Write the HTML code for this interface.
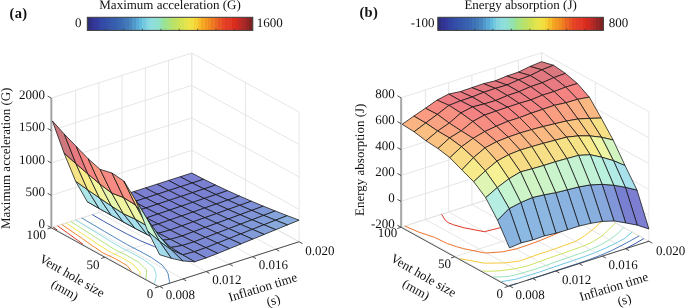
<!DOCTYPE html><html><head><meta charset="utf-8"><style>html,body{margin:0;padding:0;background:#fff;overflow:hidden}svg{display:block;will-change:transform}</style></head><body><svg width="685" height="308" viewBox="0 0 685 308">
<style>.t{font-family:'Liberation Serif',serif;font-size:13px;fill:#111;text-rendering:geometricPrecision}.g{stroke:#e3e3e3;stroke-width:0.9}.b{font-family:'Liberation Serif',serif;font-size:14.5px;font-weight:bold;letter-spacing:0.3px;fill:#111}</style>
<rect width="685" height="308" fill="#fff"/>
<line x1="52.40" y1="227.40" x2="52.40" y2="97.70" class="g"/>
<line x1="159.70" y1="286.40" x2="52.40" y2="227.40" class="g"/>
<line x1="75.63" y1="219.96" x2="75.63" y2="90.26" class="g"/>
<line x1="182.93" y1="278.96" x2="75.63" y2="219.96" class="g"/>
<line x1="98.86" y1="212.52" x2="98.86" y2="82.82" class="g"/>
<line x1="206.16" y1="271.52" x2="98.86" y2="212.52" class="g"/>
<line x1="122.10" y1="205.08" x2="122.10" y2="75.38" class="g"/>
<line x1="229.40" y1="264.08" x2="122.10" y2="205.08" class="g"/>
<line x1="145.33" y1="197.64" x2="145.33" y2="67.94" class="g"/>
<line x1="252.63" y1="256.64" x2="145.33" y2="197.64" class="g"/>
<line x1="168.56" y1="190.20" x2="168.56" y2="60.50" class="g"/>
<line x1="275.86" y1="249.20" x2="168.56" y2="190.20" class="g"/>
<line x1="191.79" y1="182.76" x2="191.79" y2="53.06" class="g"/>
<line x1="299.09" y1="241.76" x2="191.79" y2="182.76" class="g"/>
<line x1="299.09" y1="241.76" x2="299.09" y2="112.06" class="g"/>
<line x1="158.54" y1="286.77" x2="299.09" y2="241.76" class="g"/>
<line x1="245.44" y1="212.26" x2="245.44" y2="82.56" class="g"/>
<line x1="104.89" y1="257.27" x2="245.44" y2="212.26" class="g"/>
<line x1="191.79" y1="182.76" x2="191.79" y2="53.06" class="g"/>
<line x1="51.24" y1="227.77" x2="191.79" y2="182.76" class="g"/>
<line x1="51.24" y1="227.77" x2="191.79" y2="182.76" class="g"/>
<line x1="191.79" y1="182.76" x2="299.09" y2="241.76" class="g"/>
<line x1="51.24" y1="195.35" x2="191.79" y2="150.33" class="g"/>
<line x1="191.79" y1="150.33" x2="299.09" y2="209.33" class="g"/>
<line x1="51.24" y1="162.92" x2="191.79" y2="117.91" class="g"/>
<line x1="191.79" y1="117.91" x2="299.09" y2="176.91" class="g"/>
<line x1="51.24" y1="130.50" x2="191.79" y2="85.48" class="g"/>
<line x1="191.79" y1="85.48" x2="299.09" y2="144.48" class="g"/>
<line x1="51.24" y1="98.07" x2="191.79" y2="53.06" class="g"/>
<line x1="191.79" y1="53.06" x2="299.09" y2="112.06" class="g"/>
<polyline points="239.48,208.98 230.51,214.16 222.09,219.63 214.42,225.52 211.24,228.40 207.48,231.81 201.65,238.72 199.47,242.54 197.51,246.55 196.11,253.99 196.01,255.83 184.66,259.70 181.94,258.53 168.25,252.54 154.39,246.61 140.39,240.72 127.72,234.40 115.60,227.91 103.76,221.33 92.28,214.63" fill="none" stroke="#3553a9" stroke-width="0.95"/>
<polyline points="168.83,283.48 169.54,281.71 167.97,273.38 165.66,269.46 162.06,264.90 151.84,257.80 139.94,251.23 127.50,244.84 115.96,238.16 104.59,231.44 93.16,224.72 81.78,217.99" fill="none" stroke="#4681bc" stroke-width="0.95"/>
<polyline points="154.56,283.58 155.95,277.23 156.22,274.38 153.88,267.52 144.55,260.13 132.81,253.52 120.29,247.15 109.01,240.39 97.91,233.57 86.73,226.78 75.57,219.98" fill="none" stroke="#8adae0" stroke-width="0.95"/>
<polyline points="146.13,278.94 146.56,269.86 144.76,268.08 138.43,262.09 126.83,255.43 114.10,249.14 103.17,242.26 92.48,235.31 81.66,228.40 70.85,221.49" fill="none" stroke="#aee279" stroke-width="0.95"/>
<polyline points="139.79,275.45 139.95,271.98 132.66,263.94 121.16,257.25 108.33,250.98 97.59,244.05 87.14,237.02 81.43,233.25 76.58,230.03 66.12,223.00" fill="none" stroke="#f1e445" stroke-width="0.95"/>
<polyline points="131.23,270.75 127.20,265.69 115.84,258.95 102.82,252.75 92.38,245.72 82.30,238.57 71.99,231.50 61.69,224.43" fill="none" stroke="#ef8322" stroke-width="0.95"/>
<polyline points="83.02,244.24 77.45,240.12 67.47,232.95 57.47,225.77" fill="none" stroke="#de3322" stroke-width="0.95"/>
<polyline points="57.19,230.04 53.26,227.12" fill="none" stroke="#7a2020" stroke-width="0.95"/>
<polyline points="51.24,227.77 158.54,286.77 299.09,241.76" fill="none" stroke="#3a3a3a" stroke-width="0.9"/>
<line x1="51.24" y1="227.77" x2="51.24" y2="98.07" stroke="#a0a0a0" stroke-width="1.7"/>
<line x1="51.24" y1="227.77" x2="47.64" y2="225.77" stroke="#3a3a3a" stroke-width="0.9"/>
<line x1="51.24" y1="195.35" x2="47.64" y2="193.35" stroke="#3a3a3a" stroke-width="0.9"/>
<line x1="51.24" y1="162.92" x2="47.64" y2="160.92" stroke="#3a3a3a" stroke-width="0.9"/>
<line x1="51.24" y1="130.50" x2="47.64" y2="128.50" stroke="#3a3a3a" stroke-width="0.9"/>
<line x1="51.24" y1="98.07" x2="47.64" y2="96.07" stroke="#3a3a3a" stroke-width="0.9"/>
<line x1="158.54" y1="286.77" x2="154.84" y2="287.97" stroke="#3a3a3a" stroke-width="0.9"/>
<line x1="104.89" y1="257.27" x2="101.19" y2="258.47" stroke="#3a3a3a" stroke-width="0.9"/>
<line x1="51.24" y1="227.77" x2="47.54" y2="228.97" stroke="#3a3a3a" stroke-width="0.9"/>
<line x1="159.70" y1="286.40" x2="163.10" y2="288.30" stroke="#3a3a3a" stroke-width="0.9"/>
<line x1="182.93" y1="278.96" x2="186.33" y2="280.86" stroke="#3a3a3a" stroke-width="0.9"/>
<line x1="206.16" y1="271.52" x2="209.56" y2="273.42" stroke="#3a3a3a" stroke-width="0.9"/>
<line x1="229.40" y1="264.08" x2="232.80" y2="265.98" stroke="#3a3a3a" stroke-width="0.9"/>
<line x1="252.63" y1="256.64" x2="256.03" y2="258.54" stroke="#3a3a3a" stroke-width="0.9"/>
<line x1="275.86" y1="249.20" x2="279.26" y2="251.10" stroke="#3a3a3a" stroke-width="0.9"/>
<line x1="299.09" y1="241.76" x2="302.49" y2="243.66" stroke="#3a3a3a" stroke-width="0.9"/>
<polygon points="192.10,182.99 203.71,179.24 191.79,173.03 180.18,176.75" fill="#7a7fd1" stroke="#111" stroke-width="0.75" stroke-linejoin="round"/>
<polygon points="180.48,186.74 192.10,182.99 180.18,176.75 168.56,180.47" fill="#7a7fd1" stroke="#111" stroke-width="0.75" stroke-linejoin="round"/>
<polygon points="204.02,188.89 215.64,185.07 203.71,179.24 192.10,182.99" fill="#7a80d1" stroke="#111" stroke-width="0.75" stroke-linejoin="round"/>
<polygon points="168.87,190.49 180.48,186.74 168.56,180.47 156.94,184.19" fill="#7a7fd1" stroke="#111" stroke-width="0.75" stroke-linejoin="round"/>
<polygon points="192.40,192.70 204.02,188.89 192.10,182.99 180.48,186.74" fill="#7a80d1" stroke="#111" stroke-width="0.75" stroke-linejoin="round"/>
<polygon points="157.25,194.24 168.87,190.49 156.94,184.19 145.33,187.91" fill="#7a7fd1" stroke="#111" stroke-width="0.75" stroke-linejoin="round"/>
<polygon points="215.94,194.55 227.56,190.65 215.64,185.07 204.02,188.89" fill="#7981d1" stroke="#111" stroke-width="0.75" stroke-linejoin="round"/>
<polygon points="180.79,196.51 192.40,192.70 180.48,186.74 168.87,190.49" fill="#7a7fd1" stroke="#111" stroke-width="0.75" stroke-linejoin="round"/>
<polygon points="145.63,197.99 157.25,194.24 145.33,187.91 133.71,191.63" fill="#7a7fd1" stroke="#111" stroke-width="0.75" stroke-linejoin="round"/>
<polygon points="204.33,198.45 215.94,194.55 204.02,188.89 192.40,192.70" fill="#7980d1" stroke="#111" stroke-width="0.75" stroke-linejoin="round"/>
<polygon points="169.17,200.33 180.79,196.51 168.87,190.49 157.25,194.24" fill="#7a7fd1" stroke="#111" stroke-width="0.75" stroke-linejoin="round"/>
<polygon points="134.02,201.74 145.63,197.99 133.71,191.63 122.10,195.35" fill="#7a7fd1" stroke="#111" stroke-width="0.75" stroke-linejoin="round"/>
<polygon points="227.86,200.01 239.48,196.01 227.56,190.65 215.94,194.55" fill="#7b85d3" stroke="#111" stroke-width="0.75" stroke-linejoin="round"/>
<polygon points="192.71,202.35 204.33,198.45 192.40,192.70 180.79,196.51" fill="#7980d1" stroke="#111" stroke-width="0.75" stroke-linejoin="round"/>
<polygon points="157.56,204.14 169.17,200.33 157.25,194.24 145.63,197.99" fill="#7a7fd1" stroke="#111" stroke-width="0.75" stroke-linejoin="round"/>
<polygon points="122.40,205.49 134.02,201.74 122.10,195.35 110.48,199.07" fill="#7a7fd1" stroke="#111" stroke-width="0.75" stroke-linejoin="round"/>
<polygon points="216.25,204.02 227.86,200.01 215.94,194.55 204.33,198.45" fill="#7a84d2" stroke="#111" stroke-width="0.75" stroke-linejoin="round"/>
<polygon points="181.09,206.24 192.71,202.35 180.79,196.51 169.17,200.33" fill="#7980d1" stroke="#111" stroke-width="0.75" stroke-linejoin="round"/>
<polygon points="145.94,207.95 157.56,204.14 145.63,197.99 134.02,201.74" fill="#7a7fd1" stroke="#111" stroke-width="0.75" stroke-linejoin="round"/>
<polygon points="110.79,208.16 122.40,205.49 110.48,199.07 98.86,201.63" fill="#7980d1" stroke="#111" stroke-width="0.75" stroke-linejoin="round"/>
<polygon points="239.79,205.30 251.40,201.18 239.48,196.01 227.86,200.01" fill="#7c8bd4" stroke="#111" stroke-width="0.75" stroke-linejoin="round"/>
<polygon points="204.63,208.02 216.25,204.02 204.33,198.45 192.71,202.35" fill="#7a83d2" stroke="#111" stroke-width="0.75" stroke-linejoin="round"/>
<polygon points="169.48,210.14 181.09,206.24 169.17,200.33 157.56,204.14" fill="#7980d1" stroke="#111" stroke-width="0.75" stroke-linejoin="round"/>
<polygon points="134.32,211.76 145.94,207.95 134.02,201.74 122.40,205.49" fill="#7a7fd1" stroke="#111" stroke-width="0.75" stroke-linejoin="round"/>
<polygon points="228.17,209.42 239.79,205.30 227.86,200.01 216.25,204.02" fill="#7c89d4" stroke="#111" stroke-width="0.75" stroke-linejoin="round"/>
<polygon points="99.17,208.49 110.79,208.16 98.86,201.63 87.25,201.68" fill="#7d8cd5" stroke="#111" stroke-width="0.75" stroke-linejoin="round"/>
<polygon points="193.02,212.02 204.63,208.02 192.71,202.35 181.09,206.24" fill="#7a82d2" stroke="#111" stroke-width="0.75" stroke-linejoin="round"/>
<polygon points="157.86,214.04 169.48,210.14 157.56,204.14 145.94,207.95" fill="#7a80d1" stroke="#111" stroke-width="0.75" stroke-linejoin="round"/>
<polygon points="122.71,214.56 134.32,211.76 122.40,205.49 110.79,208.16" fill="#7980d1" stroke="#111" stroke-width="0.75" stroke-linejoin="round"/>
<polygon points="251.71,210.42 263.33,206.16 251.40,201.18 239.79,205.30" fill="#7e91d6" stroke="#111" stroke-width="0.75" stroke-linejoin="round"/>
<polygon points="216.56,213.54 228.17,209.42 216.25,204.02 204.63,208.02" fill="#7b87d3" stroke="#111" stroke-width="0.75" stroke-linejoin="round"/>
<polygon points="181.40,216.02 193.02,212.02 181.09,206.24 169.48,210.14" fill="#7981d1" stroke="#111" stroke-width="0.75" stroke-linejoin="round"/>
<polygon points="146.25,217.94 157.86,214.04 145.94,207.95 134.32,211.76" fill="#7a7fd1" stroke="#111" stroke-width="0.75" stroke-linejoin="round"/>
<polygon points="111.09,215.17 122.71,214.56 110.79,208.16 99.17,208.49" fill="#7d8cd5" stroke="#111" stroke-width="0.75" stroke-linejoin="round"/>
<polygon points="240.09,214.68 251.71,210.42 239.79,205.30 228.17,209.42" fill="#7e8fd6" stroke="#111" stroke-width="0.75" stroke-linejoin="round"/>
<polygon points="204.94,217.67 216.56,213.54 204.63,208.02 193.02,212.02" fill="#7b86d3" stroke="#111" stroke-width="0.75" stroke-linejoin="round"/>
<polygon points="169.78,220.02 181.40,216.02 169.48,210.14 157.86,214.04" fill="#7980d1" stroke="#111" stroke-width="0.75" stroke-linejoin="round"/>
<polygon points="87.55,189.71 99.17,208.49 87.25,201.68 75.63,181.23" fill="#ade6e8" stroke="#111" stroke-width="0.75" stroke-linejoin="round"/>
<polygon points="134.63,220.89 146.25,217.94 134.32,211.76 122.71,214.56" fill="#7980d1" stroke="#111" stroke-width="0.75" stroke-linejoin="round"/>
<polygon points="263.63,215.39 275.25,210.98 263.33,206.16 251.71,210.42" fill="#8198d8" stroke="#111" stroke-width="0.75" stroke-linejoin="round"/>
<polygon points="228.48,218.94 240.09,214.68 228.17,209.42 216.56,213.54" fill="#7d8cd5" stroke="#111" stroke-width="0.75" stroke-linejoin="round"/>
<polygon points="193.32,221.79 204.94,217.67 193.02,212.02 181.40,216.02" fill="#7a84d2" stroke="#111" stroke-width="0.75" stroke-linejoin="round"/>
<polygon points="158.17,224.02 169.78,220.02 157.86,214.04 146.25,217.94" fill="#7980d1" stroke="#111" stroke-width="0.75" stroke-linejoin="round"/>
<polygon points="123.01,221.80 134.63,220.89 122.71,214.56 111.09,215.17" fill="#7d8bd5" stroke="#111" stroke-width="0.75" stroke-linejoin="round"/>
<polygon points="252.02,219.80 263.63,215.39 251.71,210.42 240.09,214.68" fill="#8095d8" stroke="#111" stroke-width="0.75" stroke-linejoin="round"/>
<polygon points="216.86,223.20 228.48,218.94 216.56,213.54 204.94,217.67" fill="#7c8ad4" stroke="#111" stroke-width="0.75" stroke-linejoin="round"/>
<polygon points="99.48,197.90 111.09,215.17 99.17,208.49 87.55,189.71" fill="#aae3eb" stroke="#111" stroke-width="0.75" stroke-linejoin="round"/>
<polygon points="181.71,225.91 193.32,221.79 181.40,216.02 169.78,220.02" fill="#7a82d2" stroke="#111" stroke-width="0.75" stroke-linejoin="round"/>
<polygon points="146.55,227.13 158.17,224.02 146.25,217.94 134.63,220.89" fill="#7981d1" stroke="#111" stroke-width="0.75" stroke-linejoin="round"/>
<polygon points="275.55,220.22 287.17,215.65 275.25,210.98 263.63,215.39" fill="#85a4db" stroke="#111" stroke-width="0.75" stroke-linejoin="round"/>
<polygon points="240.40,224.21 252.02,219.80 240.09,214.68 228.48,218.94" fill="#7f92d7" stroke="#111" stroke-width="0.75" stroke-linejoin="round"/>
<polygon points="205.25,227.46 216.86,223.20 204.94,217.67 193.32,221.79" fill="#7b88d3" stroke="#111" stroke-width="0.75" stroke-linejoin="round"/>
<polygon points="170.09,230.03 181.71,225.91 169.78,220.02 158.17,224.02" fill="#7981d1" stroke="#111" stroke-width="0.75" stroke-linejoin="round"/>
<polygon points="134.94,228.29 146.55,227.13 134.63,220.89 123.01,221.80" fill="#7d8cd5" stroke="#111" stroke-width="0.75" stroke-linejoin="round"/>
<polygon points="111.40,206.02 123.01,221.80 111.09,215.17 99.48,197.90" fill="#a7dfec" stroke="#111" stroke-width="0.75" stroke-linejoin="round"/>
<polygon points="75.94,163.73 87.55,189.71 75.63,181.23 64.02,153.04" fill="#f6e287" stroke="#111" stroke-width="0.75" stroke-linejoin="round"/>
<polygon points="263.94,224.79 275.55,220.22 263.63,215.39 252.02,219.80" fill="#839eda" stroke="#111" stroke-width="0.75" stroke-linejoin="round"/>
<polygon points="228.78,228.62 240.40,224.21 228.48,218.94 216.86,223.20" fill="#7e8fd6" stroke="#111" stroke-width="0.75" stroke-linejoin="round"/>
<polygon points="193.63,231.71 205.25,227.46 193.32,221.79 181.71,225.91" fill="#7b85d3" stroke="#111" stroke-width="0.75" stroke-linejoin="round"/>
<polygon points="158.48,233.22 170.09,230.03 158.17,224.02 146.55,227.13" fill="#7a83d2" stroke="#111" stroke-width="0.75" stroke-linejoin="round"/>
<polygon points="252.32,229.37 263.94,224.79 252.02,219.80 240.40,224.21" fill="#8199d9" stroke="#111" stroke-width="0.75" stroke-linejoin="round"/>
<polygon points="287.48,224.92 299.09,220.16 287.17,215.65 275.55,220.22" fill="#89addd" stroke="#111" stroke-width="0.75" stroke-linejoin="round"/>
<polygon points="217.17,233.03 228.78,228.62 216.86,223.20 205.25,227.46" fill="#7d8cd5" stroke="#111" stroke-width="0.75" stroke-linejoin="round"/>
<polygon points="182.01,235.97 193.63,231.71 181.71,225.91 170.09,230.03" fill="#7a83d2" stroke="#111" stroke-width="0.75" stroke-linejoin="round"/>
<polygon points="146.86,234.40 158.48,233.22 146.55,227.13 134.94,228.29" fill="#7d8ed5" stroke="#111" stroke-width="0.75" stroke-linejoin="round"/>
<polygon points="87.86,173.88 99.48,197.90 87.55,189.71 75.94,163.73" fill="#f8ec8b" stroke="#111" stroke-width="0.75" stroke-linejoin="round"/>
<polygon points="123.32,213.63 134.94,228.29 123.01,221.80 111.40,206.02" fill="#a4ddeb" stroke="#111" stroke-width="0.75" stroke-linejoin="round"/>
<polygon points="240.71,233.94 252.32,229.37 240.40,224.21 228.78,228.62" fill="#7f94d7" stroke="#111" stroke-width="0.75" stroke-linejoin="round"/>
<polygon points="275.86,229.67 287.48,224.92 275.55,220.22 263.94,224.79" fill="#88a9dc" stroke="#111" stroke-width="0.75" stroke-linejoin="round"/>
<polygon points="205.55,237.44 217.17,233.03 205.25,227.46 193.63,231.71" fill="#7c89d4" stroke="#111" stroke-width="0.75" stroke-linejoin="round"/>
<polygon points="170.40,239.32 182.01,235.97 170.09,230.03 158.48,233.22" fill="#7b85d3" stroke="#111" stroke-width="0.75" stroke-linejoin="round"/>
<polygon points="264.24,234.42 275.86,229.67 263.94,224.79 252.32,229.37" fill="#85a2da" stroke="#111" stroke-width="0.75" stroke-linejoin="round"/>
<polygon points="229.09,238.51 240.71,233.94 228.78,228.62 217.17,233.03" fill="#7e90d6" stroke="#111" stroke-width="0.75" stroke-linejoin="round"/>
<polygon points="193.94,241.85 205.55,237.44 193.63,231.71 182.01,235.97" fill="#7b86d3" stroke="#111" stroke-width="0.75" stroke-linejoin="round"/>
<polygon points="99.78,183.96 111.40,206.02 99.48,197.90 87.86,173.88" fill="#f3f49e" stroke="#111" stroke-width="0.75" stroke-linejoin="round"/>
<polygon points="158.78,240.68 170.40,239.32 158.48,233.22 146.86,234.40" fill="#7e8fd6" stroke="#111" stroke-width="0.75" stroke-linejoin="round"/>
<polygon points="135.24,219.11 146.86,234.40 134.94,228.29 123.32,213.63" fill="#a7e0ec" stroke="#111" stroke-width="0.75" stroke-linejoin="round"/>
<polygon points="252.63,239.17 264.24,234.42 252.32,229.37 240.71,233.94" fill="#829cd9" stroke="#111" stroke-width="0.75" stroke-linejoin="round"/>
<polygon points="217.47,243.09 229.09,238.51 217.17,233.03 205.55,237.44" fill="#7d8dd5" stroke="#111" stroke-width="0.75" stroke-linejoin="round"/>
<polygon points="64.32,134.15 75.94,163.73 64.02,153.04 52.40,120.98" fill="#cc787d" stroke="#111" stroke-width="0.75" stroke-linejoin="round"/>
<polygon points="182.32,245.50 193.94,241.85 182.01,235.97 170.40,239.32" fill="#7b86d3" stroke="#111" stroke-width="0.75" stroke-linejoin="round"/>
<polygon points="111.70,193.00 123.32,213.63 111.40,206.02 99.78,183.96" fill="#e7f5ad" stroke="#111" stroke-width="0.75" stroke-linejoin="round"/>
<polygon points="241.01,243.92 252.63,239.17 240.71,233.94 229.09,238.51" fill="#8095d8" stroke="#111" stroke-width="0.75" stroke-linejoin="round"/>
<polygon points="205.86,247.66 217.47,243.09 205.55,237.44 193.94,241.85" fill="#7c89d4" stroke="#111" stroke-width="0.75" stroke-linejoin="round"/>
<polygon points="170.70,247.49 182.32,245.50 170.40,239.32 158.78,240.68" fill="#7d8ed5" stroke="#111" stroke-width="0.75" stroke-linejoin="round"/>
<polygon points="76.24,146.48 87.86,173.88 75.94,163.73 64.32,134.15" fill="#e77980" stroke="#111" stroke-width="0.75" stroke-linejoin="round"/>
<polygon points="147.17,225.91 158.78,240.68 146.86,234.40 135.24,219.11" fill="#a6dfec" stroke="#111" stroke-width="0.75" stroke-linejoin="round"/>
<polygon points="229.40,248.67 241.01,243.92 229.09,238.51 217.47,243.09" fill="#7e91d6" stroke="#111" stroke-width="0.75" stroke-linejoin="round"/>
<polygon points="194.24,251.76 205.86,247.66 193.94,241.85 182.32,245.50" fill="#7b88d3" stroke="#111" stroke-width="0.75" stroke-linejoin="round"/>
<polygon points="123.63,197.62 135.24,219.11 123.32,213.63 111.70,193.00" fill="#f1f5a2" stroke="#111" stroke-width="0.75" stroke-linejoin="round"/>
<polygon points="88.17,158.74 99.78,183.96 87.86,173.88 76.24,146.48" fill="#f68682" stroke="#111" stroke-width="0.75" stroke-linejoin="round"/>
<polygon points="217.78,253.42 229.40,248.67 217.47,243.09 205.86,247.66" fill="#7d8dd5" stroke="#111" stroke-width="0.75" stroke-linejoin="round"/>
<polygon points="182.63,254.85 194.24,251.76 182.32,245.50 170.70,247.49" fill="#7c8ad4" stroke="#111" stroke-width="0.75" stroke-linejoin="round"/>
<polygon points="159.09,236.03 170.70,247.49 158.78,240.68 147.17,225.91" fill="#9fd6eb" stroke="#111" stroke-width="0.75" stroke-linejoin="round"/>
<polygon points="206.16,257.90 217.78,253.42 205.86,247.66 194.24,251.76" fill="#7c89d4" stroke="#111" stroke-width="0.75" stroke-linejoin="round"/>
<polygon points="100.09,169.38 111.70,193.00 99.78,183.96 88.17,158.74" fill="#fa9782" stroke="#111" stroke-width="0.75" stroke-linejoin="round"/>
<polygon points="135.55,205.04 147.17,225.91 135.24,219.11 123.63,197.62" fill="#edf5a7" stroke="#111" stroke-width="0.75" stroke-linejoin="round"/>
<polygon points="171.01,249.62 182.63,254.85 170.70,247.49 159.09,236.03" fill="#8ab6e1" stroke="#111" stroke-width="0.75" stroke-linejoin="round"/>
<polygon points="194.55,261.80 206.16,257.90 194.24,251.76 182.63,254.85" fill="#7c89d4" stroke="#111" stroke-width="0.75" stroke-linejoin="round"/>
<polygon points="147.47,219.48 159.09,236.03 147.17,225.91 135.55,205.04" fill="#ccf4c8" stroke="#111" stroke-width="0.75" stroke-linejoin="round"/>
<polygon points="112.01,173.02 123.63,197.62 111.70,193.00 100.09,169.38" fill="#f78a82" stroke="#111" stroke-width="0.75" stroke-linejoin="round"/>
<polygon points="182.93,260.94 194.55,261.80 182.63,254.85 171.01,249.62" fill="#849fda" stroke="#111" stroke-width="0.75" stroke-linejoin="round"/>
<polygon points="159.39,241.26 171.01,249.62 159.09,236.03 147.47,219.48" fill="#a9e2eb" stroke="#111" stroke-width="0.75" stroke-linejoin="round"/>
<polygon points="123.93,181.13 135.55,205.04 123.63,197.62 112.01,173.02" fill="#f89182" stroke="#111" stroke-width="0.75" stroke-linejoin="round"/>
<polygon points="171.32,258.30 182.93,260.94 171.01,249.62 159.39,241.26" fill="#8fbee4" stroke="#111" stroke-width="0.75" stroke-linejoin="round"/>
<polygon points="135.86,200.40 147.47,219.48 135.55,205.04 123.93,181.13" fill="#f9cc82" stroke="#111" stroke-width="0.75" stroke-linejoin="round"/>
<polygon points="147.78,231.34 159.39,241.26 147.47,219.48 135.86,200.40" fill="#c7f4cf" stroke="#111" stroke-width="0.75" stroke-linejoin="round"/>
<polygon points="159.70,254.75 171.32,258.30 159.39,241.26 147.78,231.34" fill="#a3dbeb" stroke="#111" stroke-width="0.75" stroke-linejoin="round"/>
<text x="44.94" y="228.37" text-anchor="end" class="t">0</text>
<text x="44.94" y="195.95" text-anchor="end" class="t">500</text>
<text x="44.94" y="163.52" text-anchor="end" class="t">1000</text>
<text x="44.94" y="131.10" text-anchor="end" class="t">1500</text>
<text x="44.94" y="98.67" text-anchor="end" class="t">2000</text>
<text x="45.94" y="239.07" text-anchor="end" class="t">100</text>
<text x="99.59" y="268.57" text-anchor="end" class="t">50</text>
<text x="153.24" y="298.07" text-anchor="end" class="t">0</text>
<text x="180.40" y="299.20" text-anchor="middle" class="t">0.008</text>
<text x="226.86" y="284.32" text-anchor="middle" class="t">0.012</text>
<text x="273.33" y="269.44" text-anchor="middle" class="t">0.016</text>
<text x="319.79" y="254.56" text-anchor="middle" class="t">0.020</text>
<line x1="402.20" y1="226.90" x2="402.20" y2="97.40" class="g"/>
<line x1="509.50" y1="285.90" x2="402.20" y2="226.90" class="g"/>
<line x1="425.43" y1="219.46" x2="425.43" y2="89.96" class="g"/>
<line x1="532.73" y1="278.46" x2="425.43" y2="219.46" class="g"/>
<line x1="448.66" y1="212.02" x2="448.66" y2="82.52" class="g"/>
<line x1="555.96" y1="271.02" x2="448.66" y2="212.02" class="g"/>
<line x1="471.90" y1="204.58" x2="471.90" y2="75.08" class="g"/>
<line x1="579.20" y1="263.58" x2="471.90" y2="204.58" class="g"/>
<line x1="495.13" y1="197.14" x2="495.13" y2="67.64" class="g"/>
<line x1="602.43" y1="256.14" x2="495.13" y2="197.14" class="g"/>
<line x1="518.36" y1="189.70" x2="518.36" y2="60.20" class="g"/>
<line x1="625.66" y1="248.70" x2="518.36" y2="189.70" class="g"/>
<line x1="541.59" y1="182.26" x2="541.59" y2="52.76" class="g"/>
<line x1="648.89" y1="241.26" x2="541.59" y2="182.26" class="g"/>
<line x1="648.89" y1="241.26" x2="648.89" y2="111.76" class="g"/>
<line x1="508.34" y1="286.27" x2="648.89" y2="241.26" class="g"/>
<line x1="595.24" y1="211.76" x2="595.24" y2="82.26" class="g"/>
<line x1="454.69" y1="256.77" x2="595.24" y2="211.76" class="g"/>
<line x1="541.59" y1="182.26" x2="541.59" y2="52.76" class="g"/>
<line x1="401.04" y1="227.27" x2="541.59" y2="182.26" class="g"/>
<line x1="401.04" y1="227.27" x2="541.59" y2="182.26" class="g"/>
<line x1="541.59" y1="182.26" x2="648.89" y2="241.26" class="g"/>
<line x1="401.04" y1="201.37" x2="541.59" y2="156.36" class="g"/>
<line x1="541.59" y1="156.36" x2="648.89" y2="215.36" class="g"/>
<line x1="401.04" y1="175.47" x2="541.59" y2="130.46" class="g"/>
<line x1="541.59" y1="130.46" x2="648.89" y2="189.46" class="g"/>
<line x1="401.04" y1="149.57" x2="541.59" y2="104.56" class="g"/>
<line x1="541.59" y1="104.56" x2="648.89" y2="163.56" class="g"/>
<line x1="401.04" y1="123.67" x2="541.59" y2="78.66" class="g"/>
<line x1="541.59" y1="78.66" x2="648.89" y2="137.66" class="g"/>
<line x1="401.04" y1="97.77" x2="541.59" y2="52.76" class="g"/>
<line x1="541.59" y1="52.76" x2="648.89" y2="111.76" class="g"/>
<polyline points="647.89,241.58 648.65,241.13" fill="none" stroke="#2a2c6a" stroke-width="0.95"/>
<polyline points="625.40,248.78 625.61,248.67 634.96,243.71 643.88,238.51" fill="none" stroke="#3450a8" stroke-width="0.95"/>
<polyline points="509.06,285.66 517.24,283.42" fill="none" stroke="#3f72b6" stroke-width="0.95"/>
<polyline points="527.45,280.15 532.61,278.39 544.32,274.73 555.58,270.81 567.07,267.02 578.68,263.29 589.88,259.35 600.78,255.24 611.11,250.81 620.66,245.95 630.03,241.00 639.12,235.88" fill="none" stroke="#3f72b6" stroke-width="0.95"/>
<polyline points="501.70,281.61 515.74,279.22 527.61,275.64 539.49,272.07 550.73,268.14 562.02,264.24 573.47,260.43 584.72,256.51 595.64,252.41 605.98,247.98 615.72,243.23 624.06,238.84 624.97,238.21 632.22,232.09" fill="none" stroke="#68c2e0" stroke-width="0.95"/>
<polyline points="493.35,277.02 505.82,276.70 510.19,276.17 522.61,272.89 534.65,269.41 545.88,265.48 556.97,261.47 568.26,257.57 579.56,253.67 590.51,249.58 600.45,244.94 609.40,239.76 617.28,233.98 622.10,229.09 623.67,227.39" fill="none" stroke="#92e2b8" stroke-width="0.95"/>
<polyline points="482.39,270.99 490.40,271.27 500.39,270.78 515.03,268.73 528.05,265.78 539.11,261.75 550.11,257.69 561.46,253.83 572.72,249.91 583.77,245.88 593.75,241.26 602.18,235.79 602.87,235.25 608.85,229.35 615.56,222.93" fill="none" stroke="#cbe258" stroke-width="0.95"/>
<polyline points="459.91,258.63 463.04,259.28 483.66,263.05 486.56,263.18 504.45,262.91 519.49,261.07 530.60,257.07 541.85,253.15 553.41,249.40 564.48,245.38 575.54,241.35 584.30,236.07 591.88,230.13 595.55,227.22 599.00,223.93 606.11,217.74" fill="none" stroke="#f5c631" stroke-width="0.95"/>
<polyline points="404.86,226.05 418.56,232.03 434.43,237.33 447.39,243.55 456.60,246.70 463.76,248.68 483.56,252.71 486.42,252.99 502.62,251.80 515.91,248.99 527.40,245.21 538.44,241.17 548.98,236.86 559.24,232.39 568.59,227.43 577.08,222.76 577.81,222.39 586.50,217.06 595.73,212.03" fill="none" stroke="#eb6922" stroke-width="0.95"/>
<polyline points="441.57,214.29 445.39,220.33 448.12,222.57 453.44,224.75 464.12,227.82 484.43,231.69 497.09,228.54 509.27,225.13 521.58,221.79 532.42,217.64 547.19,215.66 557.43,211.18 570.01,207.99 580.45,203.63" fill="none" stroke="#dd2c1c" stroke-width="0.95"/>
<polyline points="498.03,196.21 496.39,197.83 491.81,198.20" fill="none" stroke="#dd2c1c" stroke-width="0.95"/>
<polyline points="401.04,227.27 508.34,286.27 648.89,241.26" fill="none" stroke="#3a3a3a" stroke-width="0.9"/>
<line x1="401.04" y1="227.27" x2="401.04" y2="97.77" stroke="#a0a0a0" stroke-width="1.7"/>
<line x1="401.04" y1="227.27" x2="397.44" y2="225.27" stroke="#3a3a3a" stroke-width="0.9"/>
<line x1="401.04" y1="201.37" x2="397.44" y2="199.37" stroke="#3a3a3a" stroke-width="0.9"/>
<line x1="401.04" y1="175.47" x2="397.44" y2="173.47" stroke="#3a3a3a" stroke-width="0.9"/>
<line x1="401.04" y1="149.57" x2="397.44" y2="147.57" stroke="#3a3a3a" stroke-width="0.9"/>
<line x1="401.04" y1="123.67" x2="397.44" y2="121.67" stroke="#3a3a3a" stroke-width="0.9"/>
<line x1="401.04" y1="97.77" x2="397.44" y2="95.77" stroke="#3a3a3a" stroke-width="0.9"/>
<line x1="508.34" y1="286.27" x2="504.64" y2="287.47" stroke="#3a3a3a" stroke-width="0.9"/>
<line x1="454.69" y1="256.77" x2="450.99" y2="257.97" stroke="#3a3a3a" stroke-width="0.9"/>
<line x1="401.04" y1="227.27" x2="397.34" y2="228.47" stroke="#3a3a3a" stroke-width="0.9"/>
<line x1="509.50" y1="285.90" x2="512.90" y2="287.80" stroke="#3a3a3a" stroke-width="0.9"/>
<line x1="532.73" y1="278.46" x2="536.13" y2="280.36" stroke="#3a3a3a" stroke-width="0.9"/>
<line x1="555.96" y1="271.02" x2="559.36" y2="272.92" stroke="#3a3a3a" stroke-width="0.9"/>
<line x1="579.20" y1="263.58" x2="582.60" y2="265.48" stroke="#3a3a3a" stroke-width="0.9"/>
<line x1="602.43" y1="256.14" x2="605.83" y2="258.04" stroke="#3a3a3a" stroke-width="0.9"/>
<line x1="625.66" y1="248.70" x2="629.06" y2="250.60" stroke="#3a3a3a" stroke-width="0.9"/>
<line x1="648.89" y1="241.26" x2="652.29" y2="243.16" stroke="#3a3a3a" stroke-width="0.9"/>
<polygon points="541.90,69.79 553.51,65.27 541.59,61.70 529.98,66.45" fill="#d6787e" stroke="#111" stroke-width="0.75" stroke-linejoin="round"/>
<polygon points="530.28,75.54 541.90,69.79 529.98,66.45 518.36,72.11" fill="#df787f" stroke="#111" stroke-width="0.75" stroke-linejoin="round"/>
<polygon points="518.67,79.83 530.28,75.54 518.36,72.11 506.74,76.09" fill="#e1787f" stroke="#111" stroke-width="0.75" stroke-linejoin="round"/>
<polygon points="553.82,77.61 565.44,73.38 553.51,65.27 541.90,69.79" fill="#db787f" stroke="#111" stroke-width="0.75" stroke-linejoin="round"/>
<polygon points="507.05,84.95 518.67,79.83 506.74,76.09 495.13,80.85" fill="#e77880" stroke="#111" stroke-width="0.75" stroke-linejoin="round"/>
<polygon points="542.20,82.75 553.82,77.61 541.90,69.79 530.28,75.54" fill="#e2787f" stroke="#111" stroke-width="0.75" stroke-linejoin="round"/>
<polygon points="565.74,87.05 577.36,83.56 565.44,73.38 553.82,77.61" fill="#e77980" stroke="#111" stroke-width="0.75" stroke-linejoin="round"/>
<polygon points="530.59,86.65 542.20,82.75 530.28,75.54 518.67,79.83" fill="#e27880" stroke="#111" stroke-width="0.75" stroke-linejoin="round"/>
<polygon points="495.43,88.38 507.05,84.95 495.13,80.85 483.51,83.66" fill="#e67880" stroke="#111" stroke-width="0.75" stroke-linejoin="round"/>
<polygon points="554.13,91.54 565.74,87.05 553.82,77.61 542.20,82.75" fill="#e97a81" stroke="#111" stroke-width="0.75" stroke-linejoin="round"/>
<polygon points="518.97,91.69 530.59,86.65 518.67,79.83 507.05,84.95" fill="#e77980" stroke="#111" stroke-width="0.75" stroke-linejoin="round"/>
<polygon points="577.66,99.32 589.28,97.11 577.36,83.56 565.74,87.05" fill="#f58482" stroke="#111" stroke-width="0.75" stroke-linejoin="round"/>
<polygon points="483.82,92.28 495.43,88.38 483.51,83.66 471.90,87.64" fill="#e67880" stroke="#111" stroke-width="0.75" stroke-linejoin="round"/>
<polygon points="542.51,95.11 554.13,91.54 542.20,82.75 530.59,86.65" fill="#e97a81" stroke="#111" stroke-width="0.75" stroke-linejoin="round"/>
<polygon points="507.36,95.54 518.97,91.69 507.05,84.95 495.43,88.38" fill="#e87980" stroke="#111" stroke-width="0.75" stroke-linejoin="round"/>
<polygon points="589.59,118.40 601.20,118.04 589.28,97.11 577.66,99.32" fill="#fab982" stroke="#111" stroke-width="0.75" stroke-linejoin="round"/>
<polygon points="472.20,96.94 483.82,92.28 471.90,87.64 460.28,91.62" fill="#e97a81" stroke="#111" stroke-width="0.75" stroke-linejoin="round"/>
<polygon points="566.05,102.72 577.66,99.32 565.74,87.05 554.13,91.54" fill="#f48382" stroke="#111" stroke-width="0.75" stroke-linejoin="round"/>
<polygon points="601.51,137.25 613.13,140.01 601.20,118.04 589.59,118.40" fill="#f6e186" stroke="#111" stroke-width="0.75" stroke-linejoin="round"/>
<polygon points="637.28,225.17 648.89,228.96 636.97,190.03 625.35,187.27" fill="#7d7dd2" stroke="#111" stroke-width="0.75" stroke-linejoin="round"/>
<polygon points="530.89,99.90 542.51,95.11 530.59,86.65 518.97,91.69" fill="#ec7c81" stroke="#111" stroke-width="0.75" stroke-linejoin="round"/>
<polygon points="613.43,160.64 625.05,165.60 613.13,140.01 601.51,137.25" fill="#d1f4c1" stroke="#111" stroke-width="0.75" stroke-linejoin="round"/>
<polygon points="495.74,100.47 507.36,95.54 495.43,88.38 483.82,92.28" fill="#eb7b81" stroke="#111" stroke-width="0.75" stroke-linejoin="round"/>
<polygon points="625.35,187.27 636.97,190.03 625.05,165.60 613.43,160.64" fill="#a8e0ec" stroke="#111" stroke-width="0.75" stroke-linejoin="round"/>
<polygon points="460.59,100.81 472.20,96.94 460.28,91.62 448.66,94.05" fill="#ea7a81" stroke="#111" stroke-width="0.75" stroke-linejoin="round"/>
<polygon points="554.43,105.29 566.05,102.72 554.13,91.54 542.51,95.11" fill="#f28182" stroke="#111" stroke-width="0.75" stroke-linejoin="round"/>
<polygon points="577.97,119.01 589.59,118.40 577.66,99.32 566.05,102.72" fill="#faac82" stroke="#111" stroke-width="0.75" stroke-linejoin="round"/>
<polygon points="519.28,103.34 530.89,99.90 518.97,91.69 507.36,95.54" fill="#eb7b81" stroke="#111" stroke-width="0.75" stroke-linejoin="round"/>
<polygon points="484.12,103.95 495.74,100.47 483.82,92.28 472.20,96.94" fill="#ea7b81" stroke="#111" stroke-width="0.75" stroke-linejoin="round"/>
<polygon points="589.89,135.92 601.51,137.25 589.59,118.40 577.97,119.01" fill="#f8d183" stroke="#111" stroke-width="0.75" stroke-linejoin="round"/>
<polygon points="448.97,105.36 460.59,100.81 448.66,94.05 437.05,100.10" fill="#ec7c81" stroke="#111" stroke-width="0.75" stroke-linejoin="round"/>
<polygon points="625.66,222.93 637.28,225.17 625.35,187.27 613.74,185.16" fill="#7980d1" stroke="#111" stroke-width="0.75" stroke-linejoin="round"/>
<polygon points="542.82,109.27 554.43,105.29 542.51,95.11 530.89,99.90" fill="#f28182" stroke="#111" stroke-width="0.75" stroke-linejoin="round"/>
<polygon points="566.36,121.04 577.97,119.01 566.05,102.72 554.43,105.29" fill="#faa382" stroke="#111" stroke-width="0.75" stroke-linejoin="round"/>
<polygon points="601.82,157.24 613.43,160.64 601.51,137.25 589.89,135.92" fill="#eef5a5" stroke="#111" stroke-width="0.75" stroke-linejoin="round"/>
<polygon points="507.66,107.18 519.28,103.34 507.36,95.54 495.74,100.47" fill="#ec7b81" stroke="#111" stroke-width="0.75" stroke-linejoin="round"/>
<polygon points="613.74,185.16 625.35,187.27 613.43,160.64 601.82,157.24" fill="#b2eae5" stroke="#111" stroke-width="0.75" stroke-linejoin="round"/>
<polygon points="437.35,114.39 448.97,105.36 437.05,100.10 425.43,108.22" fill="#f68882" stroke="#111" stroke-width="0.75" stroke-linejoin="round"/>
<polygon points="472.51,106.90 484.12,103.95 472.20,96.94 460.59,100.81" fill="#e87980" stroke="#111" stroke-width="0.75" stroke-linejoin="round"/>
<polygon points="531.20,113.18 542.82,109.27 530.89,99.90 519.28,103.34" fill="#f38282" stroke="#111" stroke-width="0.75" stroke-linejoin="round"/>
<polygon points="578.28,135.89 589.89,135.92 577.97,119.01 566.36,121.04" fill="#fac682" stroke="#111" stroke-width="0.75" stroke-linejoin="round"/>
<polygon points="554.74,123.73 566.36,121.04 554.43,105.29 542.82,109.27" fill="#fa9e82" stroke="#111" stroke-width="0.75" stroke-linejoin="round"/>
<polygon points="425.74,122.99 437.35,114.39 425.43,108.22 413.82,116.08" fill="#fa9b82" stroke="#111" stroke-width="0.75" stroke-linejoin="round"/>
<polygon points="496.05,111.10 507.66,107.18 495.74,100.47 484.12,103.95" fill="#ec7c81" stroke="#111" stroke-width="0.75" stroke-linejoin="round"/>
<polygon points="614.04,220.95 625.66,222.93 613.74,185.16 602.12,184.35" fill="#8096d8" stroke="#111" stroke-width="0.75" stroke-linejoin="round"/>
<polygon points="460.89,112.95 472.51,106.90 460.59,100.81 448.97,105.36" fill="#ef7d82" stroke="#111" stroke-width="0.75" stroke-linejoin="round"/>
<polygon points="590.20,154.75 601.82,157.24 589.89,135.92 578.28,135.89" fill="#f7ea8a" stroke="#111" stroke-width="0.75" stroke-linejoin="round"/>
<polygon points="414.12,131.80 425.74,122.99 413.82,116.08 402.20,124.34" fill="#fab382" stroke="#111" stroke-width="0.75" stroke-linejoin="round"/>
<polygon points="519.58,117.58 531.20,113.18 519.28,103.34 507.66,107.18" fill="#f48382" stroke="#111" stroke-width="0.75" stroke-linejoin="round"/>
<polygon points="602.12,184.35 613.74,185.16 601.82,157.24 590.20,154.75" fill="#baf0de" stroke="#111" stroke-width="0.75" stroke-linejoin="round"/>
<polygon points="543.12,126.54 554.74,123.73 542.82,109.27 531.20,113.18" fill="#fa9982" stroke="#111" stroke-width="0.75" stroke-linejoin="round"/>
<polygon points="566.66,137.15 578.28,135.89 566.36,121.04 554.74,123.73" fill="#fabd82" stroke="#111" stroke-width="0.75" stroke-linejoin="round"/>
<polygon points="449.28,123.10 460.89,112.95 448.97,105.36 437.35,114.39" fill="#f89082" stroke="#111" stroke-width="0.75" stroke-linejoin="round"/>
<polygon points="484.43,115.14 496.05,111.10 484.12,103.95 472.51,106.90" fill="#ed7c81" stroke="#111" stroke-width="0.75" stroke-linejoin="round"/>
<polygon points="602.43,221.43 614.04,220.95 602.12,184.35 590.51,184.83" fill="#87a8dc" stroke="#111" stroke-width="0.75" stroke-linejoin="round"/>
<polygon points="437.66,130.99 449.28,123.10 437.35,114.39 425.74,122.99" fill="#faa382" stroke="#111" stroke-width="0.75" stroke-linejoin="round"/>
<polygon points="507.97,121.26 519.58,117.58 507.66,107.18 496.05,111.10" fill="#f48382" stroke="#111" stroke-width="0.75" stroke-linejoin="round"/>
<polygon points="578.58,155.36 590.20,154.75 578.28,135.89 566.66,137.15" fill="#f6e287" stroke="#111" stroke-width="0.75" stroke-linejoin="round"/>
<polygon points="531.51,129.61 543.12,126.54 531.20,113.18 519.58,117.58" fill="#fa9682" stroke="#111" stroke-width="0.75" stroke-linejoin="round"/>
<polygon points="472.81,121.45 484.43,115.14 472.51,106.90 460.89,112.95" fill="#f38282" stroke="#111" stroke-width="0.75" stroke-linejoin="round"/>
<polygon points="590.51,184.83 602.12,184.35 590.20,154.75 578.58,155.36" fill="#c1f2d7" stroke="#111" stroke-width="0.75" stroke-linejoin="round"/>
<polygon points="555.05,140.22 566.66,137.15 554.74,123.73 543.12,126.54" fill="#fabb82" stroke="#111" stroke-width="0.75" stroke-linejoin="round"/>
<polygon points="426.04,140.81 437.66,130.99 425.74,122.99 414.12,131.80" fill="#fabe82" stroke="#111" stroke-width="0.75" stroke-linejoin="round"/>
<polygon points="496.35,126.19 507.97,121.26 496.05,111.10 484.43,115.14" fill="#f68682" stroke="#111" stroke-width="0.75" stroke-linejoin="round"/>
<polygon points="461.20,130.83 472.81,121.45 460.89,112.95 449.28,123.10" fill="#f99482" stroke="#111" stroke-width="0.75" stroke-linejoin="round"/>
<polygon points="590.81,223.34 602.43,221.43 590.51,184.83 578.89,186.87" fill="#89afde" stroke="#111" stroke-width="0.75" stroke-linejoin="round"/>
<polygon points="519.89,133.07 531.51,129.61 519.58,117.58 507.97,121.26" fill="#f99682" stroke="#111" stroke-width="0.75" stroke-linejoin="round"/>
<polygon points="566.97,158.56 578.58,155.36 566.66,137.15 555.05,140.22" fill="#f6e186" stroke="#111" stroke-width="0.75" stroke-linejoin="round"/>
<polygon points="543.43,143.29 555.05,140.22 543.12,126.54 531.51,129.61" fill="#fab882" stroke="#111" stroke-width="0.75" stroke-linejoin="round"/>
<polygon points="449.58,137.95 461.20,130.83 449.28,123.10 437.66,130.99" fill="#faa582" stroke="#111" stroke-width="0.75" stroke-linejoin="round"/>
<polygon points="578.89,186.87 590.51,184.83 578.58,155.36 566.97,158.56" fill="#c5f3d2" stroke="#111" stroke-width="0.75" stroke-linejoin="round"/>
<polygon points="484.74,131.57 496.35,126.19 484.43,115.14 472.81,121.45" fill="#f78c82" stroke="#111" stroke-width="0.75" stroke-linejoin="round"/>
<polygon points="437.97,148.54 449.58,137.95 437.66,130.99 426.04,140.81" fill="#fac282" stroke="#111" stroke-width="0.75" stroke-linejoin="round"/>
<polygon points="579.20,226.02 590.81,223.34 578.89,186.87 567.27,189.81" fill="#89b2e0" stroke="#111" stroke-width="0.75" stroke-linejoin="round"/>
<polygon points="508.28,137.05 519.89,133.07 507.97,121.26 496.35,126.19" fill="#fa9682" stroke="#111" stroke-width="0.75" stroke-linejoin="round"/>
<polygon points="555.35,161.76 566.97,158.56 555.05,140.22 543.43,143.29" fill="#f6df86" stroke="#111" stroke-width="0.75" stroke-linejoin="round"/>
<polygon points="531.81,146.62 543.43,143.29 531.51,129.61 519.89,133.07" fill="#fab682" stroke="#111" stroke-width="0.75" stroke-linejoin="round"/>
<polygon points="473.12,138.33 484.74,131.57 472.81,121.45 461.20,130.83" fill="#fa9882" stroke="#111" stroke-width="0.75" stroke-linejoin="round"/>
<polygon points="567.27,189.81 578.89,186.87 566.97,158.56 555.35,161.76" fill="#c7f3d0" stroke="#111" stroke-width="0.75" stroke-linejoin="round"/>
<polygon points="461.50,146.71 473.12,138.33 461.20,130.83 449.58,137.95" fill="#faaf82" stroke="#111" stroke-width="0.75" stroke-linejoin="round"/>
<polygon points="496.66,141.68 508.28,137.05 496.35,126.19 484.74,131.57" fill="#fa9b82" stroke="#111" stroke-width="0.75" stroke-linejoin="round"/>
<polygon points="567.58,229.74 579.20,226.02 567.27,189.81 555.66,192.63" fill="#89b2e0" stroke="#111" stroke-width="0.75" stroke-linejoin="round"/>
<polygon points="543.74,165.48 555.35,161.76 543.43,143.29 531.81,146.62" fill="#f6df86" stroke="#111" stroke-width="0.75" stroke-linejoin="round"/>
<polygon points="520.20,150.08 531.81,146.62 519.89,133.07 508.28,137.05" fill="#fab582" stroke="#111" stroke-width="0.75" stroke-linejoin="round"/>
<polygon points="449.89,157.68 461.50,146.71 449.58,137.95 437.97,148.54" fill="#f9ca82" stroke="#111" stroke-width="0.75" stroke-linejoin="round"/>
<polygon points="555.66,192.63 567.27,189.81 555.35,161.76 543.74,165.48" fill="#c9f4cc" stroke="#111" stroke-width="0.75" stroke-linejoin="round"/>
<polygon points="485.04,147.86 496.66,141.68 484.74,131.57 473.12,138.33" fill="#faa782" stroke="#111" stroke-width="0.75" stroke-linejoin="round"/>
<polygon points="555.96,233.21 567.58,229.74 555.66,192.63 544.04,194.79" fill="#8ab3e0" stroke="#111" stroke-width="0.75" stroke-linejoin="round"/>
<polygon points="532.12,168.81 543.74,165.48 531.81,146.62 520.20,150.08" fill="#f6de85" stroke="#111" stroke-width="0.75" stroke-linejoin="round"/>
<polygon points="508.58,154.71 520.20,150.08 508.28,137.05 496.66,141.68" fill="#fab982" stroke="#111" stroke-width="0.75" stroke-linejoin="round"/>
<polygon points="473.43,157.67 485.04,147.86 473.12,138.33 461.50,146.71" fill="#fac182" stroke="#111" stroke-width="0.75" stroke-linejoin="round"/>
<polygon points="544.04,194.79 555.66,192.63 543.74,165.48 532.12,168.81" fill="#cdf4c7" stroke="#111" stroke-width="0.75" stroke-linejoin="round"/>
<polygon points="461.81,169.93 473.43,157.67 461.50,146.71 449.89,157.68" fill="#f7dc85" stroke="#111" stroke-width="0.75" stroke-linejoin="round"/>
<polygon points="496.97,161.15 508.58,154.71 496.66,141.68 485.04,147.86" fill="#fac382" stroke="#111" stroke-width="0.75" stroke-linejoin="round"/>
<polygon points="544.35,235.95 555.96,233.21 544.04,194.79 532.43,197.48" fill="#8bb7e1" stroke="#111" stroke-width="0.75" stroke-linejoin="round"/>
<polygon points="520.50,171.89 532.12,168.81 520.20,150.08 508.58,154.71" fill="#f7dc85" stroke="#111" stroke-width="0.75" stroke-linejoin="round"/>
<polygon points="532.43,197.48 544.04,194.79 532.12,168.81 520.50,171.89" fill="#d0f4c3" stroke="#111" stroke-width="0.75" stroke-linejoin="round"/>
<polygon points="485.35,170.83 496.97,161.15 485.04,147.86 473.43,157.67" fill="#f8d684" stroke="#111" stroke-width="0.75" stroke-linejoin="round"/>
<polygon points="508.89,178.84 520.50,171.89 508.58,154.71 496.97,161.15" fill="#f7e588" stroke="#111" stroke-width="0.75" stroke-linejoin="round"/>
<polygon points="473.73,181.67 485.35,170.83 473.43,157.67 461.81,169.93" fill="#f7ea8a" stroke="#111" stroke-width="0.75" stroke-linejoin="round"/>
<polygon points="532.73,239.93 544.35,235.95 532.43,197.48 520.81,202.49" fill="#8ab6e1" stroke="#111" stroke-width="0.75" stroke-linejoin="round"/>
<polygon points="520.81,202.49 532.43,197.48 520.50,171.89 508.89,178.84" fill="#ccf4c8" stroke="#111" stroke-width="0.75" stroke-linejoin="round"/>
<polygon points="497.27,187.61 508.89,178.84 496.97,161.15 485.35,170.83" fill="#f6f194" stroke="#111" stroke-width="0.75" stroke-linejoin="round"/>
<polygon points="521.12,242.94 532.73,239.93 520.81,202.49 509.19,208.54" fill="#8cb9e2" stroke="#111" stroke-width="0.75" stroke-linejoin="round"/>
<polygon points="485.66,197.68 497.27,187.61 485.35,170.83 473.73,181.67" fill="#dff5b3" stroke="#111" stroke-width="0.75" stroke-linejoin="round"/>
<polygon points="509.19,208.54 520.81,202.49 508.89,178.84 497.27,187.61" fill="#c6f3d0" stroke="#111" stroke-width="0.75" stroke-linejoin="round"/>
<polygon points="497.58,220.29 509.19,208.54 497.27,187.61 485.66,197.68" fill="#b5ede3" stroke="#111" stroke-width="0.75" stroke-linejoin="round"/>
<polygon points="509.50,247.83 521.12,242.94 509.19,208.54 497.58,220.29" fill="#8ab4e0" stroke="#111" stroke-width="0.75" stroke-linejoin="round"/>
<text x="394.74" y="227.87" text-anchor="end" class="t">-200</text>
<text x="394.74" y="201.97" text-anchor="end" class="t">0</text>
<text x="394.74" y="176.07" text-anchor="end" class="t">200</text>
<text x="394.74" y="150.17" text-anchor="end" class="t">400</text>
<text x="394.74" y="124.27" text-anchor="end" class="t">600</text>
<text x="394.74" y="98.37" text-anchor="end" class="t">800</text>
<text x="397.24" y="237.17" text-anchor="end" class="t">100</text>
<text x="450.89" y="268.37" text-anchor="end" class="t">50</text>
<text x="503.04" y="297.57" text-anchor="end" class="t">0</text>
<text x="530.20" y="298.70" text-anchor="middle" class="t">0.008</text>
<text x="576.66" y="283.82" text-anchor="middle" class="t">0.012</text>
<text x="623.13" y="269.44" text-anchor="middle" class="t">0.016</text>
<text x="670.59" y="255.06" text-anchor="middle" class="t">0.020</text>
<defs><linearGradient id="cba" x1="0" x2="1" y1="0" y2="0"><stop offset="0.0000" stop-color="#2d2f79"/><stop offset="0.0208" stop-color="#2d2f79"/><stop offset="0.0208" stop-color="#323392"/><stop offset="0.0417" stop-color="#323392"/><stop offset="0.0417" stop-color="#34399e"/><stop offset="0.0625" stop-color="#34399e"/><stop offset="0.0625" stop-color="#3243a2"/><stop offset="0.0833" stop-color="#3243a2"/><stop offset="0.0833" stop-color="#334ba6"/><stop offset="0.1042" stop-color="#334ba6"/><stop offset="0.1042" stop-color="#3451a9"/><stop offset="0.1250" stop-color="#3451a9"/><stop offset="0.1250" stop-color="#3556aa"/><stop offset="0.1458" stop-color="#3556aa"/><stop offset="0.1458" stop-color="#375cad"/><stop offset="0.1667" stop-color="#375cad"/><stop offset="0.1667" stop-color="#3862af"/><stop offset="0.1875" stop-color="#3862af"/><stop offset="0.1875" stop-color="#3a68b2"/><stop offset="0.2083" stop-color="#3a68b2"/><stop offset="0.2083" stop-color="#3e71b5"/><stop offset="0.2292" stop-color="#3e71b5"/><stop offset="0.2292" stop-color="#437bba"/><stop offset="0.2500" stop-color="#437bba"/><stop offset="0.2500" stop-color="#4988bf"/><stop offset="0.2708" stop-color="#4988bf"/><stop offset="0.2708" stop-color="#5199ca"/><stop offset="0.2917" stop-color="#5199ca"/><stop offset="0.2917" stop-color="#59aad6"/><stop offset="0.3125" stop-color="#59aad6"/><stop offset="0.3125" stop-color="#62badd"/><stop offset="0.3333" stop-color="#62badd"/><stop offset="0.3333" stop-color="#73c9e0"/><stop offset="0.3542" stop-color="#73c9e0"/><stop offset="0.3542" stop-color="#84d5e0"/><stop offset="0.3750" stop-color="#84d5e0"/><stop offset="0.3750" stop-color="#8dddde"/><stop offset="0.3958" stop-color="#8dddde"/><stop offset="0.3958" stop-color="#90e0d9"/><stop offset="0.4167" stop-color="#90e0d9"/><stop offset="0.4167" stop-color="#90e1ca"/><stop offset="0.4375" stop-color="#90e1ca"/><stop offset="0.4375" stop-color="#93e2b2"/><stop offset="0.4583" stop-color="#93e2b2"/><stop offset="0.4583" stop-color="#9be392"/><stop offset="0.4792" stop-color="#9be392"/><stop offset="0.4792" stop-color="#a7e380"/><stop offset="0.5000" stop-color="#a7e380"/><stop offset="0.5000" stop-color="#b4e271"/><stop offset="0.5208" stop-color="#b4e271"/><stop offset="0.5208" stop-color="#bfe266"/><stop offset="0.5417" stop-color="#bfe266"/><stop offset="0.5417" stop-color="#c9e25a"/><stop offset="0.5625" stop-color="#c9e25a"/><stop offset="0.5625" stop-color="#d5e352"/><stop offset="0.5833" stop-color="#d5e352"/><stop offset="0.5833" stop-color="#e2e54d"/><stop offset="0.6042" stop-color="#e2e54d"/><stop offset="0.6042" stop-color="#ede548"/><stop offset="0.6250" stop-color="#ede548"/><stop offset="0.6250" stop-color="#f3de41"/><stop offset="0.6458" stop-color="#f3de41"/><stop offset="0.6458" stop-color="#f5d135"/><stop offset="0.6667" stop-color="#f5d135"/><stop offset="0.6667" stop-color="#f5bc2c"/><stop offset="0.6875" stop-color="#f5bc2c"/><stop offset="0.6875" stop-color="#f5a723"/><stop offset="0.7083" stop-color="#f5a723"/><stop offset="0.7083" stop-color="#f39821"/><stop offset="0.7292" stop-color="#f39821"/><stop offset="0.7292" stop-color="#f08b22"/><stop offset="0.7500" stop-color="#f08b22"/><stop offset="0.7500" stop-color="#ee7922"/><stop offset="0.7708" stop-color="#ee7922"/><stop offset="0.7708" stop-color="#eb6623"/><stop offset="0.7917" stop-color="#eb6623"/><stop offset="0.7917" stop-color="#e85524"/><stop offset="0.8125" stop-color="#e85524"/><stop offset="0.8125" stop-color="#e54525"/><stop offset="0.8333" stop-color="#e54525"/><stop offset="0.8333" stop-color="#e23c26"/><stop offset="0.8542" stop-color="#e23c26"/><stop offset="0.8542" stop-color="#e03927"/><stop offset="0.8750" stop-color="#e03927"/><stop offset="0.8750" stop-color="#dd2e1d"/><stop offset="0.8958" stop-color="#dd2e1d"/><stop offset="0.8958" stop-color="#d02a20"/><stop offset="0.9167" stop-color="#d02a20"/><stop offset="0.9167" stop-color="#bc2a28"/><stop offset="0.9375" stop-color="#bc2a28"/><stop offset="0.9375" stop-color="#aa2828"/><stop offset="0.9583" stop-color="#aa2828"/><stop offset="0.9583" stop-color="#932525"/><stop offset="0.9792" stop-color="#932525"/><stop offset="0.9792" stop-color="#812222"/><stop offset="1.0000" stop-color="#812222"/></linearGradient></defs>
<rect x="87.30" y="17.30" width="165.50" height="13.10" fill="url(#cba)"/>
<rect x="87.30" y="17.30" width="165.50" height="13.10" fill="none" stroke="#3c3c3c" stroke-width="1"/>
<line x1="105.69" y1="30.40" x2="105.69" y2="28.80" stroke="#333" stroke-width="0.8"/>
<line x1="124.08" y1="30.40" x2="124.08" y2="28.80" stroke="#333" stroke-width="0.8"/>
<line x1="142.47" y1="30.40" x2="142.47" y2="28.80" stroke="#333" stroke-width="0.8"/>
<line x1="160.86" y1="30.40" x2="160.86" y2="28.80" stroke="#333" stroke-width="0.8"/>
<line x1="179.24" y1="30.40" x2="179.24" y2="28.80" stroke="#333" stroke-width="0.8"/>
<line x1="197.63" y1="30.40" x2="197.63" y2="28.80" stroke="#333" stroke-width="0.8"/>
<line x1="216.02" y1="30.40" x2="216.02" y2="28.80" stroke="#333" stroke-width="0.8"/>
<line x1="234.41" y1="30.40" x2="234.41" y2="28.80" stroke="#333" stroke-width="0.8"/>
<text x="81.50" y="27.20" text-anchor="end" class="t">0</text>
<text x="256.70" y="27.20" class="t">1600</text>
<text x="170.05" y="9.0" text-anchor="middle" class="t">Maximum acceleration (G)</text>
<defs><linearGradient id="cbb" x1="0" x2="1" y1="0" y2="0"><stop offset="0.0000" stop-color="#2d2f79"/><stop offset="0.0208" stop-color="#2d2f79"/><stop offset="0.0208" stop-color="#323392"/><stop offset="0.0417" stop-color="#323392"/><stop offset="0.0417" stop-color="#34399e"/><stop offset="0.0625" stop-color="#34399e"/><stop offset="0.0625" stop-color="#3243a2"/><stop offset="0.0833" stop-color="#3243a2"/><stop offset="0.0833" stop-color="#334ba6"/><stop offset="0.1042" stop-color="#334ba6"/><stop offset="0.1042" stop-color="#3451a9"/><stop offset="0.1250" stop-color="#3451a9"/><stop offset="0.1250" stop-color="#3556aa"/><stop offset="0.1458" stop-color="#3556aa"/><stop offset="0.1458" stop-color="#375cad"/><stop offset="0.1667" stop-color="#375cad"/><stop offset="0.1667" stop-color="#3862af"/><stop offset="0.1875" stop-color="#3862af"/><stop offset="0.1875" stop-color="#3a68b2"/><stop offset="0.2083" stop-color="#3a68b2"/><stop offset="0.2083" stop-color="#3e71b5"/><stop offset="0.2292" stop-color="#3e71b5"/><stop offset="0.2292" stop-color="#437bba"/><stop offset="0.2500" stop-color="#437bba"/><stop offset="0.2500" stop-color="#4988bf"/><stop offset="0.2708" stop-color="#4988bf"/><stop offset="0.2708" stop-color="#5199ca"/><stop offset="0.2917" stop-color="#5199ca"/><stop offset="0.2917" stop-color="#59aad6"/><stop offset="0.3125" stop-color="#59aad6"/><stop offset="0.3125" stop-color="#62badd"/><stop offset="0.3333" stop-color="#62badd"/><stop offset="0.3333" stop-color="#73c9e0"/><stop offset="0.3542" stop-color="#73c9e0"/><stop offset="0.3542" stop-color="#84d5e0"/><stop offset="0.3750" stop-color="#84d5e0"/><stop offset="0.3750" stop-color="#8dddde"/><stop offset="0.3958" stop-color="#8dddde"/><stop offset="0.3958" stop-color="#90e0d9"/><stop offset="0.4167" stop-color="#90e0d9"/><stop offset="0.4167" stop-color="#90e1ca"/><stop offset="0.4375" stop-color="#90e1ca"/><stop offset="0.4375" stop-color="#93e2b2"/><stop offset="0.4583" stop-color="#93e2b2"/><stop offset="0.4583" stop-color="#9be392"/><stop offset="0.4792" stop-color="#9be392"/><stop offset="0.4792" stop-color="#a7e380"/><stop offset="0.5000" stop-color="#a7e380"/><stop offset="0.5000" stop-color="#b4e271"/><stop offset="0.5208" stop-color="#b4e271"/><stop offset="0.5208" stop-color="#bfe266"/><stop offset="0.5417" stop-color="#bfe266"/><stop offset="0.5417" stop-color="#c9e25a"/><stop offset="0.5625" stop-color="#c9e25a"/><stop offset="0.5625" stop-color="#d5e352"/><stop offset="0.5833" stop-color="#d5e352"/><stop offset="0.5833" stop-color="#e2e54d"/><stop offset="0.6042" stop-color="#e2e54d"/><stop offset="0.6042" stop-color="#ede548"/><stop offset="0.6250" stop-color="#ede548"/><stop offset="0.6250" stop-color="#f3de41"/><stop offset="0.6458" stop-color="#f3de41"/><stop offset="0.6458" stop-color="#f5d135"/><stop offset="0.6667" stop-color="#f5d135"/><stop offset="0.6667" stop-color="#f5bc2c"/><stop offset="0.6875" stop-color="#f5bc2c"/><stop offset="0.6875" stop-color="#f5a723"/><stop offset="0.7083" stop-color="#f5a723"/><stop offset="0.7083" stop-color="#f39821"/><stop offset="0.7292" stop-color="#f39821"/><stop offset="0.7292" stop-color="#f08b22"/><stop offset="0.7500" stop-color="#f08b22"/><stop offset="0.7500" stop-color="#ee7922"/><stop offset="0.7708" stop-color="#ee7922"/><stop offset="0.7708" stop-color="#eb6623"/><stop offset="0.7917" stop-color="#eb6623"/><stop offset="0.7917" stop-color="#e85524"/><stop offset="0.8125" stop-color="#e85524"/><stop offset="0.8125" stop-color="#e54525"/><stop offset="0.8333" stop-color="#e54525"/><stop offset="0.8333" stop-color="#e23c26"/><stop offset="0.8542" stop-color="#e23c26"/><stop offset="0.8542" stop-color="#e03927"/><stop offset="0.8750" stop-color="#e03927"/><stop offset="0.8750" stop-color="#dd2e1d"/><stop offset="0.8958" stop-color="#dd2e1d"/><stop offset="0.8958" stop-color="#d02a20"/><stop offset="0.9167" stop-color="#d02a20"/><stop offset="0.9167" stop-color="#bc2a28"/><stop offset="0.9375" stop-color="#bc2a28"/><stop offset="0.9375" stop-color="#aa2828"/><stop offset="0.9583" stop-color="#aa2828"/><stop offset="0.9583" stop-color="#932525"/><stop offset="0.9792" stop-color="#932525"/><stop offset="0.9792" stop-color="#812222"/><stop offset="1.0000" stop-color="#812222"/></linearGradient></defs>
<rect x="437.80" y="17.30" width="165.60" height="13.10" fill="url(#cbb)"/>
<rect x="437.80" y="17.30" width="165.60" height="13.10" fill="none" stroke="#3c3c3c" stroke-width="1"/>
<line x1="456.20" y1="30.40" x2="456.20" y2="28.80" stroke="#333" stroke-width="0.8"/>
<line x1="474.60" y1="30.40" x2="474.60" y2="28.80" stroke="#333" stroke-width="0.8"/>
<line x1="493.00" y1="30.40" x2="493.00" y2="28.80" stroke="#333" stroke-width="0.8"/>
<line x1="511.40" y1="30.40" x2="511.40" y2="28.80" stroke="#333" stroke-width="0.8"/>
<line x1="529.80" y1="30.40" x2="529.80" y2="28.80" stroke="#333" stroke-width="0.8"/>
<line x1="548.20" y1="30.40" x2="548.20" y2="28.80" stroke="#333" stroke-width="0.8"/>
<line x1="566.60" y1="30.40" x2="566.60" y2="28.80" stroke="#333" stroke-width="0.8"/>
<line x1="585.00" y1="30.40" x2="585.00" y2="28.80" stroke="#333" stroke-width="0.8"/>
<text x="434.50" y="27.20" text-anchor="end" class="t">-100</text>
<text x="608.80" y="27.20" class="t">800</text>
<text x="520.60" y="9.0" text-anchor="middle" class="t">Energy absorption (J)</text>
<text x="9.6" y="18" class="b">(a)</text>
<text x="359.4" y="17.3" class="b">(b)</text>
<text transform="translate(10.2,158.3) rotate(-90)" text-anchor="middle" class="t">Maximum acceleration (G)</text>
<text transform="translate(363.6,159.8) rotate(-90)" text-anchor="middle" class="t">Energy absorption (J)</text>
<text transform="translate(70.00,279.40) rotate(30)" text-anchor="middle" class="t">Vent hole size</text>
<text transform="translate(62.80,293.60) rotate(30)" text-anchor="middle" class="t">(mm)</text>
<text transform="translate(264.00,291.30) rotate(-17.0)" text-anchor="middle" class="t">Inflation time</text>
<text transform="translate(274.50,304.60) rotate(-17.0)" text-anchor="middle" class="t">(s)</text>
<text transform="translate(421.30,279.10) rotate(30)" text-anchor="middle" class="t">Vent hole size</text>
<text transform="translate(414.10,293.30) rotate(30)" text-anchor="middle" class="t">(mm)</text>
<text transform="translate(615.00,290.80) rotate(-17.0)" text-anchor="middle" class="t">Inflation time</text>
<text transform="translate(625.50,304.10) rotate(-17.0)" text-anchor="middle" class="t">(s)</text>
</svg></body></html>
